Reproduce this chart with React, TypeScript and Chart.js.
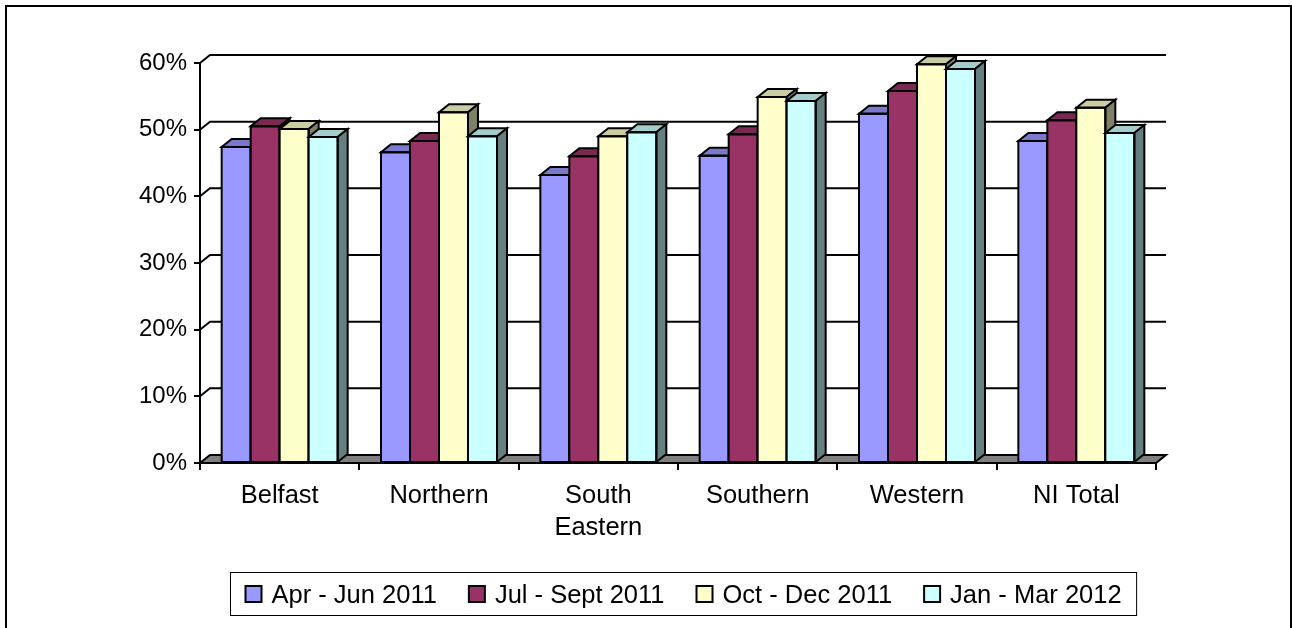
import React, { useEffect, useRef } from 'react';
import { Chart, registerables } from 'chart.js';

Chart.register(...registerables);

// Categories and the four quarterly series (percent)
const regions: (string | string[])[] = ['Belfast', 'Northern', ['South', 'Eastern'], 'Southern', 'Western', 'NI Total'];
const periods = ['Apr - Jun 2011', 'Jul - Sept 2011', 'Oct - Dec 2011', 'Jan - Mar 2012'];
const aprJun2011 = [47.4, 46.6, 43.2, 46.1, 52.4, 48.3];
const julSep2011 = [50.5, 48.3, 46.0, 49.3, 55.8, 51.4];
const octDec2011 = [50.1, 52.6, 49.0, 54.9, 59.8, 53.3];
const janMar2012 = [48.9, 49.0, 49.6, 54.3, 59.1, 49.5];
const yMin = 0;
const yMax = 60;
const yStep = 10;

const seriesValues = [aprJun2011, julSep2011, octDec2011, janMar2012];
const faceColors = ['#9999FF', '#993366', '#FFFFCC', '#CCFFFF'];

const FONT = 'Arial, "Liberation Sans", sans-serif';
const DX = 10; // oblique depth, horizontal
const DY = 8; // oblique depth, vertical

function shade(hex: string, f: number): string {
  const n = parseInt(hex.slice(1), 16);
  const r = Math.round(((n >> 16) & 255) * f);
  const g = Math.round(((n >> 8) & 255) * f);
  const b = Math.round((n & 255) * f);
  return `rgb(${r},${g},${b})`;
}

function poly(ctx: CanvasRenderingContext2D, pts: number[][], fill: string) {
  ctx.beginPath();
  ctx.moveTo(pts[0][0], pts[0][1]);
  for (let k = 1; k < pts.length; k++) ctx.lineTo(pts[k][0], pts[k][1]);
  ctx.closePath();
  ctx.fillStyle = fill;
  ctx.fill();
  ctx.stroke();
}

// Draws the back wall, floor and the 3-D columns, replacing the flat bars.
const columns3d = {
  id: 'columns3d',
  beforeDatasetsDraw(chart: any) {
    const { ctx, chartArea: a, scales } = chart;
    const ys = scales.y;
    ctx.save();
    ctx.lineWidth = 2;
    ctx.strokeStyle = '#000';
    ctx.lineJoin = 'miter';

    // back-wall gridlines with their oblique connectors
    ys.ticks.forEach((t: any) => {
      if (t.value === yMin) return;
      const py = ys.getPixelForValue(t.value);
      ctx.beginPath();
      ctx.moveTo(a.left, py);
      ctx.lineTo(a.left + DX, py - DY);
      ctx.lineTo(a.right + DX, py - DY);
      ctx.stroke();
    });

    // floor
    poly(
      ctx,
      [
        [a.left, a.bottom],
        [a.right, a.bottom],
        [a.right + DX, a.bottom - DY],
        [a.left + DX, a.bottom - DY],
      ],
      '#808080'
    );

    // columns, left to right so each one hides its neighbour's side
    const n = chart.data.labels.length;
    const metas = chart.data.datasets.map((_: any, i: number) => chart.getDatasetMeta(i));
    for (let i = 0; i < n; i++) {
      for (let j = 0; j < metas.length; j++) {
        const el = metas[j].data[i];
        const { x, y, base, width } = el.getProps(['x', 'y', 'base', 'width'], true);
        const l = x - width / 2;
        const r = x + width / 2;
        const color = faceColors[j];
        ctx.lineWidth = 2;
        // front
        ctx.fillStyle = color;
        ctx.fillRect(l, y, r - l, base - y);
        // top
        poly(ctx, [[l, y], [r, y], [r + DX, y - DY], [l + DX, y - DY]], shade(color, 0.8));
        // right side
        poly(ctx, [[r, y], [r + DX, y - DY], [r + DX, base - DY], [r, base]], shade(color, 0.5));
        ctx.strokeRect(l, y, r - l, base - y);
      }
    }
    ctx.restore();
    return false;
  },
  afterDraw(chart: any) {
    const { ctx, chartArea: a } = chart;
    ctx.save();
    // legend
    const ds = chart.data.datasets;
    ctx.font = `25.5px ${FONT}`;
    const widths = ds.map((d: any) => ctx.measureText(d.label).width);
    const pad = 15;
    const box = 16;
    const gap = 10;
    const spacing = 32;
    const total =
      2 * pad + widths.reduce((s: number, w: number) => s + box + gap + w, 0) + spacing * (ds.length - 1);
    const cx = (a.left + a.right + DX) / 2;
    const left = Math.round(cx - total / 2) + 0.5;
    const top = 572.5;
    const h = 43;
    ctx.lineWidth = 1;
    ctx.strokeStyle = '#000';
    ctx.strokeRect(left, top, total, h);
    let x = left + pad;
    ds.forEach((d: any, i: number) => {
      ctx.fillStyle = d.backgroundColor;
      ctx.fillRect(x, 586, box, box);
      ctx.lineWidth = 2;
      ctx.strokeRect(x, 586, box, box);
      ctx.fillStyle = '#000';
      ctx.textBaseline = 'alphabetic';
      ctx.textAlign = 'left';
      ctx.fillText(d.label, x + box + gap, 603);
      x += box + gap + widths[i] + spacing;
    });
    // outer frame
    ctx.lineWidth = 2;
    ctx.strokeRect(6, 6, 1285, 700);
    ctx.restore();
  },
};

export default function App() {
  const canvasRef = useRef<HTMLCanvasElement | null>(null);

  useEffect(() => {
    const canvas = canvasRef.current;
    if (!canvas) return;
    const chart = new Chart(canvas, {
      type: 'bar',
      data: {
        labels: regions,
        datasets: periods.map((p, j) => ({
          label: p,
          data: seriesValues[j],
          backgroundColor: faceColors[j],
          borderColor: '#000',
          borderWidth: 2,
          barPercentage: 1,
          categoryPercentage: 0.728,
        })),
      },
      options: {
        responsive: false,
        animation: false,
        events: [],
        layout: { padding: { left: 0, top: 63, right: 136, bottom: 65 } },
        plugins: {
          legend: { display: false },
          tooltip: { enabled: false },
          title: { display: false },
        },
        scales: {
          x: {
            grid: {
              display: true,
              drawOnChartArea: false,
              drawTicks: true,
              tickLength: 7,
              color: '#000',
              lineWidth: 2,
              offset: true,
            },
            border: { display: true, color: '#000', width: 2 },
            ticks: {
              color: '#000',
              padding: 10,
              maxRotation: 0,
              autoSkip: false,
              font: { family: FONT, size: 25.5, lineHeight: 1.26 },
            },
            afterFit: (s: any) => {
              s.height = 100;
            },
          },
          y: {
            min: yMin,
            max: yMax,
            grid: {
              display: true,
              drawOnChartArea: false,
              drawTicks: true,
              tickLength: 6,
              color: '#000',
              lineWidth: 2,
            },
            border: { display: true, color: '#000', width: 2 },
            ticks: {
              stepSize: yStep,
              color: '#000',
              padding: 7,
              font: { family: FONT, size: 24 },
              callback: (v: any) => `${v}%`,
            },
            afterFit: (s: any) => {
              s.width = 200;
            },
          },
        },
      },
      plugins: [columns3d],
    });
    return () => chart.destroy();
  }, []);

  return (
    <div style={{ position: 'absolute', left: 0, top: 0, width: 1292, height: 628, background: '#fff' }}>
      <canvas ref={canvasRef} width={1292} height={628} style={{ display: 'block' }} />
    </div>
  );
}
